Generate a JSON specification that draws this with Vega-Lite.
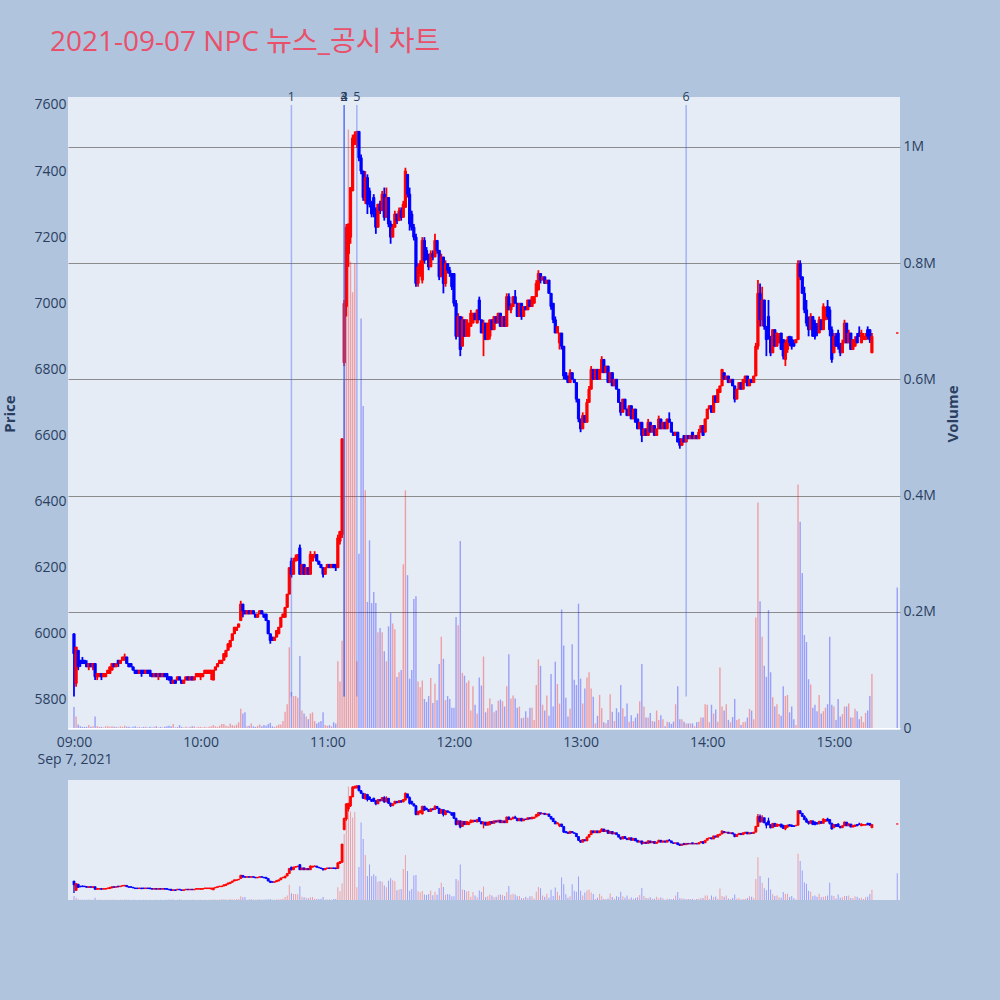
{
"$schema":"https://vega.github.io/schema/vega-lite/v6.json",
"autosize":{"type":"none"},
"padding":{"left":68,"top":97,"right":932,"bottom":903},
"background":"#B0C4DE",
"title":{"text":"2021-09-07 NPC 뉴스_공시 차트","anchor":"start","frame":"group","fontSize":28,"font":"Open Sans, Noto Sans CJK KR","fontWeight":"normal","color":"#E9506A","dx":-18,"offset":34},
"bounds":"flush",
"spacing":50,
"config":{"font":"Open Sans","view":{"fill":"#E5ECF6","stroke":null},"axis":{"labelFont":"Open Sans","labelFontSize":14,"labelColor":"#2a3f5f","titleColor":"#2a3f5f","titleFont":"Open Sans","domain":false,"ticks":false}},
"datasets":{
"news":[{"n":"1","t":"2021-09-07 10:43"},{"n":"2","t":"2021-09-07 11:08"},{"n":"3","t":"2021-09-07 11:08"},{"n":"4","t":"2021-09-07 11:08"},{"n":"5","t":"2021-09-07 11:14"},{"n":"6","t":"2021-09-07 13:50"}],
"ohlc":[
{"t":"2021-09-07 09:00","o":6000,"h":6000,"l":5810,"c":5940,"v":36000},
{"t":"2021-09-07 09:01","o":5850,"h":5960,"l":5840,"c":5960,"v":20000},
{"t":"2021-09-07 09:02","o":5950,"h":5950,"l":5890,"c":5900,"v":6000},
{"t":"2021-09-07 09:03","o":5920,"h":5920,"l":5900,"c":5910,"v":3000},
{"t":"2021-09-07 09:04","o":5920,"h":5930,"l":5910,"c":5910,"v":2000},
{"t":"2021-09-07 09:05","o":5920,"h":5920,"l":5910,"c":5910,"v":2000},
{"t":"2021-09-07 09:06","o":5910,"h":5920,"l":5900,"c":5900,"v":2000},
{"t":"2021-09-07 09:07","o":5900,"h":5910,"l":5890,"c":5910,"v":5000},
{"t":"2021-09-07 09:08","o":5910,"h":5910,"l":5900,"c":5900,"v":2000},
{"t":"2021-09-07 09:09","o":5900,"h":5910,"l":5890,"c":5910,"v":3000},
{"t":"2021-09-07 09:10","o":5910,"h":5910,"l":5860,"c":5870,"v":20000},
{"t":"2021-09-07 09:11","o":5870,"h":5880,"l":5860,"c":5880,"v":3000},
{"t":"2021-09-07 09:12","o":5870,"h":5880,"l":5870,"c":5880,"v":2000},
{"t":"2021-09-07 09:13","o":5880,"h":5880,"l":5860,"c":5870,"v":2000},
{"t":"2021-09-07 09:14","o":5870,"h":5880,"l":5870,"c":5880,"v":1000},
{"t":"2021-09-07 09:15","o":5870,"h":5880,"l":5870,"c":5880,"v":3000},
{"t":"2021-09-07 09:16","o":5880,"h":5890,"l":5880,"c":5890,"v":3000},
{"t":"2021-09-07 09:17","o":5880,"h":5900,"l":5880,"c":5900,"v":2000},
{"t":"2021-09-07 09:18","o":5890,"h":5910,"l":5890,"c":5910,"v":3000},
{"t":"2021-09-07 09:19","o":5910,"h":5910,"l":5900,"c":5900,"v":2000},
{"t":"2021-09-07 09:20","o":5900,"h":5910,"l":5900,"c":5910,"v":2000},
{"t":"2021-09-07 09:21","o":5920,"h":5920,"l":5900,"c":5910,"v":1000},
{"t":"2021-09-07 09:22","o":5910,"h":5920,"l":5910,"c":5920,"v":3000},
{"t":"2021-09-07 09:23","o":5920,"h":5930,"l":5920,"c":5930,"v":2000},
{"t":"2021-09-07 09:24","o":5920,"h":5940,"l":5920,"c":5930,"v":4000},
{"t":"2021-09-07 09:25","o":5930,"h":5930,"l":5910,"c":5910,"v":2000},
{"t":"2021-09-07 09:26","o":5910,"h":5910,"l":5900,"c":5900,"v":2000},
{"t":"2021-09-07 09:27","o":5910,"h":5910,"l":5900,"c":5900,"v":1000},
{"t":"2021-09-07 09:28","o":5900,"h":5900,"l":5890,"c":5890,"v":2000},
{"t":"2021-09-07 09:29","o":5890,"h":5890,"l":5880,"c":5880,"v":3000},
{"t":"2021-09-07 09:30","o":5890,"h":5890,"l":5880,"c":5880,"v":1000},
{"t":"2021-09-07 09:31","o":5880,"h":5890,"l":5880,"c":5890,"v":2000},
{"t":"2021-09-07 09:32","o":5890,"h":5890,"l":5870,"c":5880,"v":1000},
{"t":"2021-09-07 09:33","o":5890,"h":5890,"l":5880,"c":5880,"v":2000},
{"t":"2021-09-07 09:34","o":5880,"h":5890,"l":5880,"c":5890,"v":2000},
{"t":"2021-09-07 09:35","o":5890,"h":5890,"l":5880,"c":5880,"v":1000},
{"t":"2021-09-07 09:36","o":5890,"h":5890,"l":5870,"c":5880,"v":2000},
{"t":"2021-09-07 09:37","o":5880,"h":5880,"l":5870,"c":5870,"v":1000},
{"t":"2021-09-07 09:38","o":5870,"h":5880,"l":5870,"c":5880,"v":2000},
{"t":"2021-09-07 09:39","o":5880,"h":5880,"l":5870,"c":5870,"v":3000},
{"t":"2021-09-07 09:40","o":5870,"h":5880,"l":5860,"c":5880,"v":1000},
{"t":"2021-09-07 09:41","o":5880,"h":5880,"l":5870,"c":5870,"v":2000},
{"t":"2021-09-07 09:42","o":5870,"h":5880,"l":5870,"c":5880,"v":1000},
{"t":"2021-09-07 09:43","o":5880,"h":5880,"l":5870,"c":5870,"v":2000},
{"t":"2021-09-07 09:44","o":5880,"h":5880,"l":5860,"c":5870,"v":3000},
{"t":"2021-09-07 09:45","o":5870,"h":5870,"l":5860,"c":5860,"v":4000},
{"t":"2021-09-07 09:46","o":5870,"h":5870,"l":5850,"c":5850,"v":3000},
{"t":"2021-09-07 09:47","o":5850,"h":5860,"l":5850,"c":5860,"v":7000},
{"t":"2021-09-07 09:48","o":5860,"h":5860,"l":5850,"c":5850,"v":1000},
{"t":"2021-09-07 09:49","o":5860,"h":5870,"l":5860,"c":5870,"v":2000},
{"t":"2021-09-07 09:50","o":5870,"h":5870,"l":5860,"c":5860,"v":5000},
{"t":"2021-09-07 09:51","o":5860,"h":5860,"l":5850,"c":5850,"v":2000},
{"t":"2021-09-07 09:52","o":5850,"h":5860,"l":5850,"c":5860,"v":1000},
{"t":"2021-09-07 09:53","o":5860,"h":5870,"l":5860,"c":5870,"v":2000},
{"t":"2021-09-07 09:54","o":5870,"h":5870,"l":5860,"c":5860,"v":1000},
{"t":"2021-09-07 09:55","o":5860,"h":5870,"l":5860,"c":5870,"v":2000},
{"t":"2021-09-07 09:56","o":5870,"h":5870,"l":5860,"c":5860,"v":3000},
{"t":"2021-09-07 09:57","o":5860,"h":5870,"l":5860,"c":5870,"v":3000},
{"t":"2021-09-07 09:58","o":5870,"h":5880,"l":5870,"c":5880,"v":1000},
{"t":"2021-09-07 09:59","o":5870,"h":5880,"l":5870,"c":5880,"v":2000},
{"t":"2021-09-07 10:00","o":5870,"h":5880,"l":5860,"c":5880,"v":2000},
{"t":"2021-09-07 10:01","o":5870,"h":5880,"l":5870,"c":5880,"v":1000},
{"t":"2021-09-07 10:02","o":5880,"h":5890,"l":5880,"c":5890,"v":2000},
{"t":"2021-09-07 10:03","o":5880,"h":5890,"l":5880,"c":5890,"v":1000},
{"t":"2021-09-07 10:04","o":5880,"h":5890,"l":5880,"c":5890,"v":2000},
{"t":"2021-09-07 10:05","o":5880,"h":5890,"l":5860,"c":5890,"v":3000},
{"t":"2021-09-07 10:06","o":5860,"h":5890,"l":5860,"c":5890,"v":5000},
{"t":"2021-09-07 10:07","o":5890,"h":5900,"l":5890,"c":5900,"v":3000},
{"t":"2021-09-07 10:08","o":5900,"h":5910,"l":5900,"c":5910,"v":2000},
{"t":"2021-09-07 10:09","o":5910,"h":5920,"l":5910,"c":5920,"v":4000},
{"t":"2021-09-07 10:10","o":5910,"h":5920,"l":5910,"c":5920,"v":7000},
{"t":"2021-09-07 10:11","o":5920,"h":5940,"l":5920,"c":5940,"v":7000},
{"t":"2021-09-07 10:12","o":5930,"h":5950,"l":5930,"c":5950,"v":4000},
{"t":"2021-09-07 10:13","o":5950,"h":5970,"l":5950,"c":5970,"v":3000},
{"t":"2021-09-07 10:14","o":5960,"h":5980,"l":5960,"c":5980,"v":8000},
{"t":"2021-09-07 10:15","o":5980,"h":6000,"l":5980,"c":6000,"v":5000},
{"t":"2021-09-07 10:16","o":6000,"h":6020,"l":6000,"c":6020,"v":4000},
{"t":"2021-09-07 10:17","o":6010,"h":6020,"l":6010,"c":6020,"v":6000},
{"t":"2021-09-07 10:18","o":6020,"h":6030,"l":6020,"c":6030,"v":10000},
{"t":"2021-09-07 10:19","o":6040,"h":6100,"l":6040,"c":6090,"v":33000},
{"t":"2021-09-07 10:20","o":6090,"h":6090,"l":6050,"c":6070,"v":25000},
{"t":"2021-09-07 10:21","o":6070,"h":6070,"l":6060,"c":6060,"v":27000},
{"t":"2021-09-07 10:22","o":6060,"h":6070,"l":6060,"c":6070,"v":3000},
{"t":"2021-09-07 10:23","o":6070,"h":6070,"l":6060,"c":6060,"v":4000},
{"t":"2021-09-07 10:24","o":6060,"h":6070,"l":6060,"c":6070,"v":8000},
{"t":"2021-09-07 10:25","o":6070,"h":6070,"l":6060,"c":6060,"v":3000},
{"t":"2021-09-07 10:26","o":6060,"h":6060,"l":6050,"c":6050,"v":2000},
{"t":"2021-09-07 10:27","o":6050,"h":6060,"l":6050,"c":6060,"v":4000},
{"t":"2021-09-07 10:28","o":6060,"h":6070,"l":6060,"c":6070,"v":6000},
{"t":"2021-09-07 10:29","o":6070,"h":6070,"l":6060,"c":6060,"v":3000},
{"t":"2021-09-07 10:30","o":6060,"h":6060,"l":6050,"c":6050,"v":5000},
{"t":"2021-09-07 10:31","o":6060,"h":6060,"l":6040,"c":6040,"v":4000},
{"t":"2021-09-07 10:32","o":6040,"h":6040,"l":6000,"c":6000,"v":7000},
{"t":"2021-09-07 10:33","o":6000,"h":6000,"l":5970,"c":5980,"v":9000},
{"t":"2021-09-07 10:34","o":5990,"h":5990,"l":5980,"c":5980,"v":3000},
{"t":"2021-09-07 10:35","o":5980,"h":5990,"l":5980,"c":5990,"v":2000},
{"t":"2021-09-07 10:36","o":5990,"h":6010,"l":5990,"c":6010,"v":4000},
{"t":"2021-09-07 10:37","o":6000,"h":6020,"l":6000,"c":6020,"v":6000},
{"t":"2021-09-07 10:38","o":6020,"h":6050,"l":6020,"c":6050,"v":6000},
{"t":"2021-09-07 10:39","o":6050,"h":6060,"l":6050,"c":6060,"v":12000},
{"t":"2021-09-07 10:40","o":6050,"h":6080,"l":6050,"c":6080,"v":28000},
{"t":"2021-09-07 10:41","o":6080,"h":6120,"l":6080,"c":6120,"v":41000},
{"t":"2021-09-07 10:42","o":6120,"h":6200,"l":6120,"c":6200,"v":139000},
{"t":"2021-09-07 10:43","o":6220,"h":6230,"l":6170,"c":6180,"v":62000},
{"t":"2021-09-07 10:44","o":6180,"h":6230,"l":6180,"c":6220,"v":55000},
{"t":"2021-09-07 10:45","o":6220,"h":6240,"l":6220,"c":6230,"v":55000},
{"t":"2021-09-07 10:46","o":6230,"h":6240,"l":6220,"c":6240,"v":52000},
{"t":"2021-09-07 10:47","o":6260,"h":6270,"l":6180,"c":6180,"v":124000},
{"t":"2021-09-07 10:48","o":6180,"h":6210,"l":6180,"c":6210,"v":30000},
{"t":"2021-09-07 10:49","o":6210,"h":6210,"l":6180,"c":6180,"v":25000},
{"t":"2021-09-07 10:50","o":6180,"h":6200,"l":6180,"c":6200,"v":20000},
{"t":"2021-09-07 10:51","o":6200,"h":6200,"l":6180,"c":6180,"v":15000},
{"t":"2021-09-07 10:52","o":6180,"h":6250,"l":6180,"c":6240,"v":25000},
{"t":"2021-09-07 10:53","o":6220,"h":6240,"l":6220,"c":6240,"v":27000},
{"t":"2021-09-07 10:54","o":6230,"h":6250,"l":6230,"c":6240,"v":12000},
{"t":"2021-09-07 10:55","o":6240,"h":6240,"l":6220,"c":6220,"v":8000},
{"t":"2021-09-07 10:56","o":6220,"h":6220,"l":6210,"c":6210,"v":10000},
{"t":"2021-09-07 10:57","o":6210,"h":6210,"l":6200,"c":6200,"v":12000},
{"t":"2021-09-07 10:58","o":6200,"h":6200,"l":6170,"c":6180,"v":27000},
{"t":"2021-09-07 10:59","o":6180,"h":6200,"l":6180,"c":6200,"v":5000},
{"t":"2021-09-07 11:00","o":6200,"h":6210,"l":6200,"c":6210,"v":4000},
{"t":"2021-09-07 11:01","o":6210,"h":6210,"l":6200,"c":6200,"v":5000},
{"t":"2021-09-07 11:02","o":6200,"h":6210,"l":6200,"c":6210,"v":3000},
{"t":"2021-09-07 11:03","o":6210,"h":6210,"l":6200,"c":6200,"v":10000},
{"t":"2021-09-07 11:04","o":6210,"h":6210,"l":6190,"c":6200,"v":8000},
{"t":"2021-09-07 11:05","o":6200,"h":6300,"l":6200,"c":6290,"v":115000},
{"t":"2021-09-07 11:06","o":6280,"h":6310,"l":6270,"c":6310,"v":80000},
{"t":"2021-09-07 11:07","o":6300,"h":6590,"l":6290,"c":6590,"v":150000},
{"t":"2021-09-07 11:08","o":6820,"h":7010,"l":6810,"c":7000,"v":600000},
{"t":"2021-09-07 11:09","o":6990,"h":7240,"l":6960,"c":7230,"v":858000},
{"t":"2021-09-07 11:10","o":7150,"h":7240,"l":7110,"c":7240,"v":1030000},
{"t":"2021-09-07 11:11","o":7200,"h":7350,"l":7180,"c":7350,"v":803000},
{"t":"2021-09-07 11:12","o":7340,"h":7510,"l":7340,"c":7500,"v":750000},
{"t":"2021-09-07 11:13","o":7480,"h":7520,"l":7480,"c":7510,"v":800000},
{"t":"2021-09-07 11:14","o":7490,"h":7520,"l":7470,"c":7520,"v":115000},
{"t":"2021-09-07 11:15","o":7520,"h":7520,"l":7430,"c":7440,"v":300000},
{"t":"2021-09-07 11:16","o":7440,"h":7450,"l":7390,"c":7400,"v":705000},
{"t":"2021-09-07 11:17","o":7400,"h":7400,"l":7310,"c":7320,"v":554000},
{"t":"2021-09-07 11:18","o":7310,"h":7400,"l":7300,"c":7380,"v":409000},
{"t":"2021-09-07 11:19","o":7380,"h":7390,"l":7270,"c":7300,"v":217000},
{"t":"2021-09-07 11:20","o":7340,"h":7350,"l":7290,"c":7300,"v":323000},
{"t":"2021-09-07 11:21","o":7300,"h":7310,"l":7260,"c":7270,"v":215000},
{"t":"2021-09-07 11:22","o":7320,"h":7330,"l":7260,"c":7280,"v":234000},
{"t":"2021-09-07 11:23","o":7280,"h":7290,"l":7210,"c":7230,"v":215000},
{"t":"2021-09-07 11:24","o":7230,"h":7300,"l":7230,"c":7300,"v":165000},
{"t":"2021-09-07 11:25","o":7300,"h":7310,"l":7270,"c":7280,"v":172000},
{"t":"2021-09-07 11:26","o":7280,"h":7340,"l":7280,"c":7330,"v":165000},
{"t":"2021-09-07 11:27","o":7330,"h":7350,"l":7250,"c":7260,"v":132000},
{"t":"2021-09-07 11:28","o":7260,"h":7350,"l":7260,"c":7320,"v":115000},
{"t":"2021-09-07 11:29","o":7320,"h":7320,"l":7230,"c":7240,"v":175000},
{"t":"2021-09-07 11:30","o":7240,"h":7250,"l":7180,"c":7200,"v":198000},
{"t":"2021-09-07 11:31","o":7200,"h":7240,"l":7200,"c":7230,"v":180000},
{"t":"2021-09-07 11:32","o":7230,"h":7280,"l":7230,"c":7270,"v":170000},
{"t":"2021-09-07 11:33","o":7270,"h":7270,"l":7240,"c":7250,"v":88000},
{"t":"2021-09-07 11:34","o":7250,"h":7290,"l":7250,"c":7280,"v":96000},
{"t":"2021-09-07 11:35","o":7280,"h":7290,"l":7250,"c":7260,"v":100000},
{"t":"2021-09-07 11:36","o":7260,"h":7310,"l":7260,"c":7300,"v":282000},
{"t":"2021-09-07 11:37","o":7290,"h":7410,"l":7290,"c":7400,"v":409000},
{"t":"2021-09-07 11:38","o":7390,"h":7390,"l":7320,"c":7330,"v":263000},
{"t":"2021-09-07 11:39","o":7330,"h":7350,"l":7220,"c":7240,"v":85000},
{"t":"2021-09-07 11:40","o":7270,"h":7280,"l":7220,"c":7230,"v":100000},
{"t":"2021-09-07 11:41","o":7230,"h":7240,"l":7190,"c":7200,"v":222000},
{"t":"2021-09-07 11:42","o":7200,"h":7210,"l":7050,"c":7060,"v":227000},
{"t":"2021-09-07 11:43","o":7060,"h":7120,"l":7050,"c":7110,"v":80000},
{"t":"2021-09-07 11:44","o":7090,"h":7130,"l":7080,"c":7120,"v":70000},
{"t":"2021-09-07 11:45","o":7070,"h":7200,"l":7060,"c":7190,"v":82000},
{"t":"2021-09-07 11:46","o":7190,"h":7200,"l":7120,"c":7130,"v":50000},
{"t":"2021-09-07 11:47","o":7160,"h":7170,"l":7130,"c":7140,"v":45000},
{"t":"2021-09-07 11:48","o":7140,"h":7150,"l":7100,"c":7110,"v":55000},
{"t":"2021-09-07 11:49","o":7110,"h":7160,"l":7110,"c":7150,"v":86000},
{"t":"2021-09-07 11:50","o":7150,"h":7160,"l":7130,"c":7140,"v":43000},
{"t":"2021-09-07 11:51","o":7140,"h":7210,"l":7140,"c":7190,"v":76000},
{"t":"2021-09-07 11:52","o":7190,"h":7190,"l":7150,"c":7160,"v":48000},
{"t":"2021-09-07 11:53","o":7160,"h":7160,"l":7070,"c":7080,"v":110000},
{"t":"2021-09-07 11:54","o":7080,"h":7150,"l":7080,"c":7140,"v":157000},
{"t":"2021-09-07 11:55","o":7140,"h":7140,"l":7030,"c":7060,"v":119000},
{"t":"2021-09-07 11:56","o":7060,"h":7130,"l":7050,"c":7120,"v":48000},
{"t":"2021-09-07 11:57","o":7120,"h":7120,"l":7090,"c":7100,"v":55000},
{"t":"2021-09-07 11:58","o":7100,"h":7110,"l":7080,"c":7090,"v":50000},
{"t":"2021-09-07 11:59","o":7090,"h":7090,"l":7040,"c":7050,"v":35000},
{"t":"2021-09-07 12:00","o":7090,"h":7090,"l":6990,"c":7000,"v":35000},
{"t":"2021-09-07 12:01","o":7000,"h":7010,"l":6890,"c":6900,"v":191000},
{"t":"2021-09-07 12:02","o":6900,"h":6970,"l":6900,"c":6960,"v":177000},
{"t":"2021-09-07 12:03","o":6960,"h":6960,"l":6840,"c":6860,"v":322000},
{"t":"2021-09-07 12:04","o":6870,"h":6960,"l":6870,"c":6950,"v":95000},
{"t":"2021-09-07 12:05","o":6950,"h":6950,"l":6900,"c":6900,"v":90000},
{"t":"2021-09-07 12:06","o":6900,"h":6950,"l":6900,"c":6950,"v":78000},
{"t":"2021-09-07 12:07","o":6900,"h":6940,"l":6900,"c":6940,"v":82000},
{"t":"2021-09-07 12:08","o":6930,"h":6980,"l":6930,"c":6970,"v":30000},
{"t":"2021-09-07 12:09","o":6940,"h":6970,"l":6940,"c":6970,"v":72000},
{"t":"2021-09-07 12:10","o":6970,"h":6970,"l":6950,"c":6950,"v":40000},
{"t":"2021-09-07 12:11","o":6940,"h":6980,"l":6940,"c":6980,"v":25000},
{"t":"2021-09-07 12:12","o":7010,"h":7020,"l":6950,"c":6950,"v":87000},
{"t":"2021-09-07 12:13","o":6950,"h":6950,"l":6910,"c":6910,"v":73000},
{"t":"2021-09-07 12:14","o":6910,"h":6950,"l":6840,"c":6940,"v":123000},
{"t":"2021-09-07 12:15","o":6940,"h":6940,"l":6890,"c":6890,"v":27000},
{"t":"2021-09-07 12:16","o":6890,"h":6940,"l":6890,"c":6940,"v":34000},
{"t":"2021-09-07 12:17","o":6900,"h":6950,"l":6890,"c":6950,"v":51000},
{"t":"2021-09-07 12:18","o":6950,"h":6950,"l":6920,"c":6920,"v":41000},
{"t":"2021-09-07 12:19","o":6920,"h":6960,"l":6920,"c":6960,"v":27000},
{"t":"2021-09-07 12:20","o":6960,"h":6960,"l":6940,"c":6940,"v":30000},
{"t":"2021-09-07 12:21","o":6940,"h":6970,"l":6940,"c":6970,"v":47000},
{"t":"2021-09-07 12:22","o":6970,"h":6970,"l":6930,"c":6930,"v":49000},
{"t":"2021-09-07 12:23","o":6930,"h":6960,"l":6930,"c":6960,"v":46000},
{"t":"2021-09-07 12:24","o":6960,"h":6960,"l":6930,"c":6930,"v":37000},
{"t":"2021-09-07 12:25","o":6930,"h":7030,"l":6930,"c":7020,"v":72000},
{"t":"2021-09-07 12:26","o":7020,"h":7030,"l":6980,"c":6980,"v":127000},
{"t":"2021-09-07 12:27","o":6980,"h":7000,"l":6970,"c":6990,"v":51000},
{"t":"2021-09-07 12:28","o":6990,"h":7020,"l":6990,"c":7020,"v":56000},
{"t":"2021-09-07 12:29","o":7020,"h":7040,"l":7000,"c":7000,"v":51000},
{"t":"2021-09-07 12:30","o":7000,"h":7000,"l":6960,"c":6960,"v":35000},
{"t":"2021-09-07 12:31","o":6960,"h":7000,"l":6960,"c":7000,"v":37000},
{"t":"2021-09-07 12:32","o":7000,"h":7000,"l":6950,"c":6960,"v":17000},
{"t":"2021-09-07 12:33","o":6960,"h":6990,"l":6960,"c":6990,"v":18000},
{"t":"2021-09-07 12:34","o":6990,"h":6990,"l":6980,"c":6980,"v":29000},
{"t":"2021-09-07 12:35","o":6980,"h":7010,"l":6980,"c":7010,"v":18000},
{"t":"2021-09-07 12:36","o":7010,"h":7010,"l":6990,"c":6990,"v":35000},
{"t":"2021-09-07 12:37","o":6990,"h":7020,"l":6990,"c":7020,"v":35000},
{"t":"2021-09-07 12:38","o":7000,"h":7020,"l":7000,"c":7020,"v":14000},
{"t":"2021-09-07 12:39","o":7020,"h":7070,"l":7020,"c":7060,"v":74000},
{"t":"2021-09-07 12:40","o":7040,"h":7100,"l":7040,"c":7090,"v":118000},
{"t":"2021-09-07 12:41","o":7090,"h":7090,"l":7060,"c":7070,"v":107000},
{"t":"2021-09-07 12:42","o":7070,"h":7080,"l":7070,"c":7080,"v":40000},
{"t":"2021-09-07 12:43","o":7080,"h":7080,"l":7060,"c":7060,"v":30000},
{"t":"2021-09-07 12:44","o":7060,"h":7070,"l":7060,"c":7070,"v":56000},
{"t":"2021-09-07 12:45","o":7070,"h":7070,"l":7030,"c":7030,"v":21000},
{"t":"2021-09-07 12:46","o":7030,"h":7030,"l":6980,"c":6990,"v":93000},
{"t":"2021-09-07 12:47","o":7000,"h":7000,"l":6940,"c":6950,"v":37000},
{"t":"2021-09-07 12:48","o":6950,"h":6960,"l":6910,"c":6910,"v":114000},
{"t":"2021-09-07 12:49","o":6910,"h":6930,"l":6910,"c":6930,"v":76000},
{"t":"2021-09-07 12:50","o":6880,"h":6910,"l":6860,"c":6910,"v":42000},
{"t":"2021-09-07 12:51","o":6910,"h":6910,"l":6860,"c":6870,"v":204000},
{"t":"2021-09-07 12:52","o":6870,"h":6870,"l":6770,"c":6780,"v":142000},
{"t":"2021-09-07 12:53","o":6790,"h":6790,"l":6770,"c":6770,"v":52000},
{"t":"2021-09-07 12:54","o":6780,"h":6780,"l":6760,"c":6760,"v":20000},
{"t":"2021-09-07 12:55","o":6760,"h":6800,"l":6760,"c":6790,"v":33000},
{"t":"2021-09-07 12:56","o":6790,"h":6790,"l":6770,"c":6770,"v":144000},
{"t":"2021-09-07 12:57","o":6770,"h":6770,"l":6760,"c":6760,"v":83000},
{"t":"2021-09-07 12:58","o":6760,"h":6760,"l":6700,"c":6710,"v":74000},
{"t":"2021-09-07 12:59","o":6710,"h":6710,"l":6640,"c":6650,"v":214000},
{"t":"2021-09-07 13:00","o":6650,"h":6650,"l":6610,"c":6620,"v":85000},
{"t":"2021-09-07 13:01","o":6620,"h":6670,"l":6620,"c":6660,"v":42000},
{"t":"2021-09-07 13:02","o":6660,"h":6660,"l":6640,"c":6640,"v":68000},
{"t":"2021-09-07 13:03","o":6640,"h":6710,"l":6640,"c":6700,"v":87000},
{"t":"2021-09-07 13:04","o":6700,"h":6750,"l":6700,"c":6740,"v":96000},
{"t":"2021-09-07 13:05","o":6740,"h":6810,"l":6740,"c":6800,"v":68000},
{"t":"2021-09-07 13:06","o":6800,"h":6800,"l":6770,"c":6770,"v":54000},
{"t":"2021-09-07 13:07","o":6770,"h":6800,"l":6770,"c":6800,"v":8000},
{"t":"2021-09-07 13:08","o":6800,"h":6800,"l":6770,"c":6770,"v":21000},
{"t":"2021-09-07 13:09","o":6770,"h":6800,"l":6770,"c":6800,"v":57000},
{"t":"2021-09-07 13:10","o":6790,"h":6840,"l":6790,"c":6830,"v":34000},
{"t":"2021-09-07 13:11","o":6830,"h":6830,"l":6790,"c":6790,"v":10000},
{"t":"2021-09-07 13:12","o":6790,"h":6810,"l":6790,"c":6810,"v":8000},
{"t":"2021-09-07 13:13","o":6810,"h":6810,"l":6760,"c":6760,"v":14000},
{"t":"2021-09-07 13:14","o":6760,"h":6790,"l":6760,"c":6790,"v":58000},
{"t":"2021-09-07 13:15","o":6790,"h":6790,"l":6750,"c":6750,"v":28000},
{"t":"2021-09-07 13:16","o":6750,"h":6770,"l":6750,"c":6770,"v":12000},
{"t":"2021-09-07 13:17","o":6770,"h":6770,"l":6740,"c":6740,"v":34000},
{"t":"2021-09-07 13:18","o":6740,"h":6740,"l":6700,"c":6700,"v":27000},
{"t":"2021-09-07 13:19","o":6700,"h":6700,"l":6660,"c":6670,"v":74000},
{"t":"2021-09-07 13:20","o":6670,"h":6710,"l":6670,"c":6710,"v":34000},
{"t":"2021-09-07 13:21","o":6710,"h":6710,"l":6680,"c":6680,"v":20000},
{"t":"2021-09-07 13:22","o":6680,"h":6680,"l":6660,"c":6660,"v":42000},
{"t":"2021-09-07 13:23","o":6660,"h":6690,"l":6660,"c":6690,"v":11000},
{"t":"2021-09-07 13:24","o":6690,"h":6690,"l":6650,"c":6650,"v":22000},
{"t":"2021-09-07 13:25","o":6650,"h":6680,"l":6650,"c":6680,"v":12000},
{"t":"2021-09-07 13:26","o":6680,"h":6680,"l":6640,"c":6640,"v":18000},
{"t":"2021-09-07 13:27","o":6650,"h":6650,"l":6620,"c":6620,"v":25000},
{"t":"2021-09-07 13:28","o":6620,"h":6640,"l":6620,"c":6640,"v":46000},
{"t":"2021-09-07 13:29","o":6640,"h":6640,"l":6580,"c":6600,"v":110000},
{"t":"2021-09-07 13:30","o":6600,"h":6620,"l":6600,"c":6620,"v":37000},
{"t":"2021-09-07 13:31","o":6620,"h":6620,"l":6600,"c":6600,"v":18000},
{"t":"2021-09-07 13:32","o":6600,"h":6650,"l":6600,"c":6640,"v":18000},
{"t":"2021-09-07 13:33","o":6640,"h":6640,"l":6610,"c":6610,"v":26000},
{"t":"2021-09-07 13:34","o":6610,"h":6630,"l":6610,"c":6630,"v":12000},
{"t":"2021-09-07 13:35","o":6630,"h":6630,"l":6600,"c":6600,"v":11000},
{"t":"2021-09-07 13:36","o":6600,"h":6620,"l":6600,"c":6620,"v":30000},
{"t":"2021-09-07 13:37","o":6620,"h":6660,"l":6620,"c":6650,"v":14000},
{"t":"2021-09-07 13:38","o":6650,"h":6650,"l":6620,"c":6620,"v":22000},
{"t":"2021-09-07 13:39","o":6620,"h":6640,"l":6620,"c":6640,"v":15000},
{"t":"2021-09-07 13:40","o":6640,"h":6640,"l":6620,"c":6620,"v":3000},
{"t":"2021-09-07 13:41","o":6620,"h":6650,"l":6620,"c":6650,"v":11000},
{"t":"2021-09-07 13:42","o":6650,"h":6670,"l":6640,"c":6640,"v":10000},
{"t":"2021-09-07 13:43","o":6640,"h":6640,"l":6610,"c":6610,"v":7000},
{"t":"2021-09-07 13:44","o":6610,"h":6610,"l":6600,"c":6600,"v":11000},
{"t":"2021-09-07 13:45","o":6600,"h":6610,"l":6600,"c":6610,"v":41000},
{"t":"2021-09-07 13:46","o":6610,"h":6610,"l":6580,"c":6580,"v":72000},
{"t":"2021-09-07 13:47","o":6590,"h":6590,"l":6560,"c":6570,"v":15000},
{"t":"2021-09-07 13:48","o":6570,"h":6590,"l":6570,"c":6590,"v":15000},
{"t":"2021-09-07 13:49","o":6600,"h":6600,"l":6580,"c":6580,"v":11000},
{"t":"2021-09-07 13:50","o":6580,"h":6600,"l":6580,"c":6600,"v":8000},
{"t":"2021-09-07 13:51","o":6600,"h":6600,"l":6590,"c":6590,"v":8000},
{"t":"2021-09-07 13:52","o":6590,"h":6600,"l":6590,"c":6600,"v":8000},
{"t":"2021-09-07 13:53","o":6610,"h":6610,"l":6590,"c":6590,"v":8000},
{"t":"2021-09-07 13:54","o":6590,"h":6600,"l":6590,"c":6600,"v":3000},
{"t":"2021-09-07 13:55","o":6600,"h":6600,"l":6590,"c":6590,"v":10000},
{"t":"2021-09-07 13:56","o":6590,"h":6620,"l":6590,"c":6610,"v":11000},
{"t":"2021-09-07 13:57","o":6610,"h":6630,"l":6610,"c":6630,"v":18000},
{"t":"2021-09-07 13:58","o":6630,"h":6630,"l":6600,"c":6600,"v":18000},
{"t":"2021-09-07 13:59","o":6610,"h":6650,"l":6610,"c":6650,"v":41000},
{"t":"2021-09-07 14:00","o":6650,"h":6680,"l":6650,"c":6680,"v":40000},
{"t":"2021-09-07 14:01","o":6680,"h":6690,"l":6680,"c":6690,"v":10000},
{"t":"2021-09-07 14:02","o":6690,"h":6690,"l":6670,"c":6670,"v":40000},
{"t":"2021-09-07 14:03","o":6670,"h":6720,"l":6670,"c":6720,"v":25000},
{"t":"2021-09-07 14:04","o":6720,"h":6720,"l":6700,"c":6700,"v":32000},
{"t":"2021-09-07 14:05","o":6700,"h":6740,"l":6700,"c":6740,"v":11000},
{"t":"2021-09-07 14:06","o":6730,"h":6750,"l":6730,"c":6750,"v":104000},
{"t":"2021-09-07 14:07","o":6750,"h":6800,"l":6750,"c":6800,"v":37000},
{"t":"2021-09-07 14:08","o":6790,"h":6790,"l":6770,"c":6770,"v":30000},
{"t":"2021-09-07 14:09","o":6770,"h":6780,"l":6770,"c":6780,"v":41000},
{"t":"2021-09-07 14:10","o":6780,"h":6780,"l":6760,"c":6760,"v":14000},
{"t":"2021-09-07 14:11","o":6760,"h":6770,"l":6760,"c":6770,"v":10000},
{"t":"2021-09-07 14:12","o":6770,"h":6770,"l":6750,"c":6750,"v":19000},
{"t":"2021-09-07 14:13","o":6750,"h":6750,"l":6700,"c":6710,"v":50000},
{"t":"2021-09-07 14:14","o":6710,"h":6740,"l":6710,"c":6740,"v":14000},
{"t":"2021-09-07 14:15","o":6740,"h":6760,"l":6740,"c":6760,"v":16000},
{"t":"2021-09-07 14:16","o":6760,"h":6760,"l":6740,"c":6740,"v":5000},
{"t":"2021-09-07 14:17","o":6740,"h":6770,"l":6740,"c":6770,"v":10000},
{"t":"2021-09-07 14:18","o":6760,"h":6780,"l":6760,"c":6780,"v":11000},
{"t":"2021-09-07 14:19","o":6780,"h":6780,"l":6750,"c":6750,"v":18000},
{"t":"2021-09-07 14:20","o":6750,"h":6770,"l":6750,"c":6770,"v":33000},
{"t":"2021-09-07 14:21","o":6770,"h":6770,"l":6760,"c":6760,"v":30000},
{"t":"2021-09-07 14:22","o":6760,"h":6780,"l":6760,"c":6780,"v":15000},
{"t":"2021-09-07 14:23","o":6780,"h":6880,"l":6780,"c":6870,"v":190000},
{"t":"2021-09-07 14:24","o":6870,"h":7070,"l":6860,"c":7030,"v":388000},
{"t":"2021-09-07 14:25","o":7030,"h":7060,"l":6930,"c":6950,"v":218000},
{"t":"2021-09-07 14:26","o":6950,"h":7050,"l":6930,"c":7010,"v":157000},
{"t":"2021-09-07 14:27","o":7010,"h":7010,"l":6920,"c":6930,"v":107000},
{"t":"2021-09-07 14:28","o":6930,"h":6930,"l":6840,"c":6890,"v":88000},
{"t":"2021-09-07 14:29","o":6960,"h":7010,"l":6890,"c":6900,"v":203000},
{"t":"2021-09-07 14:30","o":6900,"h":6900,"l":6840,"c":6850,"v":96000},
{"t":"2021-09-07 14:31","o":6850,"h":6920,"l":6850,"c":6920,"v":53000},
{"t":"2021-09-07 14:32","o":6920,"h":6920,"l":6870,"c":6870,"v":37000},
{"t":"2021-09-07 14:33","o":6870,"h":6910,"l":6870,"c":6910,"v":41000},
{"t":"2021-09-07 14:34","o":6880,"h":6910,"l":6880,"c":6900,"v":24000},
{"t":"2021-09-07 14:35","o":6910,"h":6910,"l":6860,"c":6860,"v":21000},
{"t":"2021-09-07 14:36","o":6890,"h":6890,"l":6830,"c":6840,"v":72000},
{"t":"2021-09-07 14:37","o":6830,"h":6890,"l":6810,"c":6880,"v":55000},
{"t":"2021-09-07 14:38","o":6860,"h":6900,"l":6850,"c":6890,"v":57000},
{"t":"2021-09-07 14:39","o":6900,"h":6900,"l":6870,"c":6880,"v":27000},
{"t":"2021-09-07 14:40","o":6890,"h":6900,"l":6860,"c":6870,"v":37000},
{"t":"2021-09-07 14:41","o":6880,"h":6890,"l":6870,"c":6870,"v":15000},
{"t":"2021-09-07 14:42","o":6880,"h":6890,"l":6880,"c":6890,"v":5000},
{"t":"2021-09-07 14:43","o":6890,"h":7130,"l":6890,"c":7120,"v":419000},
{"t":"2021-09-07 14:44","o":7120,"h":7130,"l":7070,"c":7080,"v":355000},
{"t":"2021-09-07 14:45","o":7080,"h":7080,"l":7030,"c":7030,"v":267000},
{"t":"2021-09-07 14:46","o":7030,"h":7050,"l":6970,"c":6980,"v":160000},
{"t":"2021-09-07 14:47","o":6980,"h":7010,"l":6930,"c":6940,"v":148000},
{"t":"2021-09-07 14:48","o":6950,"h":6960,"l":6900,"c":6920,"v":84000},
{"t":"2021-09-07 14:49","o":6920,"h":6970,"l":6920,"c":6960,"v":75000},
{"t":"2021-09-07 14:50","o":6960,"h":6960,"l":6900,"c":6900,"v":35000},
{"t":"2021-09-07 14:51","o":6940,"h":6950,"l":6890,"c":6900,"v":40000},
{"t":"2021-09-07 14:52","o":6930,"h":6940,"l":6900,"c":6910,"v":29000},
{"t":"2021-09-07 14:53","o":6910,"h":6960,"l":6910,"c":6950,"v":57000},
{"t":"2021-09-07 14:54","o":6950,"h":6950,"l":6920,"c":6920,"v":25000},
{"t":"2021-09-07 14:55","o":6920,"h":7000,"l":6920,"c":6990,"v":29000},
{"t":"2021-09-07 14:56","o":6950,"h":6990,"l":6950,"c":6980,"v":35000},
{"t":"2021-09-07 14:57","o":6990,"h":7010,"l":6950,"c":6960,"v":41000},
{"t":"2021-09-07 14:58","o":6980,"h":6990,"l":6900,"c":6920,"v":157000},
{"t":"2021-09-07 14:59","o":6920,"h":6930,"l":6820,"c":6830,"v":40000},
{"t":"2021-09-07 15:00","o":6850,"h":6910,"l":6850,"c":6900,"v":37000},
{"t":"2021-09-07 15:01","o":6900,"h":6910,"l":6870,"c":6870,"v":14000},
{"t":"2021-09-07 15:02","o":6910,"h":6920,"l":6860,"c":6870,"v":50000},
{"t":"2021-09-07 15:03","o":6870,"h":6880,"l":6840,"c":6850,"v":20000},
{"t":"2021-09-07 15:04","o":6850,"h":6890,"l":6850,"c":6880,"v":24000},
{"t":"2021-09-07 15:05","o":6880,"h":6950,"l":6880,"c":6940,"v":37000},
{"t":"2021-09-07 15:06","o":6940,"h":6940,"l":6880,"c":6880,"v":37000},
{"t":"2021-09-07 15:07","o":6880,"h":6920,"l":6880,"c":6910,"v":42000},
{"t":"2021-09-07 15:08","o":6910,"h":6910,"l":6860,"c":6860,"v":18000},
{"t":"2021-09-07 15:09","o":6860,"h":6890,"l":6860,"c":6890,"v":18000},
{"t":"2021-09-07 15:10","o":6870,"h":6900,"l":6870,"c":6890,"v":33000},
{"t":"2021-09-07 15:11","o":6900,"h":6910,"l":6880,"c":6880,"v":29000},
{"t":"2021-09-07 15:12","o":6910,"h":6930,"l":6900,"c":6900,"v":15000},
{"t":"2021-09-07 15:13","o":6880,"h":6920,"l":6880,"c":6910,"v":20000},
{"t":"2021-09-07 15:14","o":6890,"h":6910,"l":6890,"c":6900,"v":10000},
{"t":"2021-09-07 15:15","o":6890,"h":6910,"l":6890,"c":6900,"v":26000},
{"t":"2021-09-07 15:16","o":6920,"h":6930,"l":6890,"c":6900,"v":30000},
{"t":"2021-09-07 15:17","o":6920,"h":6920,"l":6880,"c":6890,"v":55000},
{"t":"2021-09-07 15:18","o":6850,"h":6910,"l":6850,"c":6900,"v":93000},
{"t":"2021-09-07 15:30","o":6910,"h":6910,"l":6910,"c":6910,"v":242000}
]},
"vconcat":[
{
"width":832,"height":633,
"data":{"name":"ohlc"},
"resolve":{"scale":{"y":"independent"}},
"layer":[
{"mark":{"type":"bar","size":1.4,"opacity":0.33},
"encoding":{
"x":{"field":"t","type":"temporal","scale":{"padding":0,"nice":false,"domain":[{"year":2021,"month":9,"date":7,"hours":8,"minutes":57,"seconds":10},{"year":2021,"month":9,"date":7,"hours":15,"minutes":31,"seconds":18}]},
"axis":{"grid":false,"labelFlush":false,"labelPadding":5,
"title":"Sep 7, 2021","titleFontWeight":"normal","titleFontSize":14,"titleAnchor":"start","titleAlign":"left","titleBaseline":"middle","titleX":-31,"titleY":29,
"values":[{"year":2021,"month":9,"date":7,"hours":9},{"year":2021,"month":9,"date":7,"hours":10},{"year":2021,"month":9,"date":7,"hours":11},{"year":2021,"month":9,"date":7,"hours":12},{"year":2021,"month":9,"date":7,"hours":13},{"year":2021,"month":9,"date":7,"hours":14},{"year":2021,"month":9,"date":7,"hours":15}],
"format":"%H:%M"}},
"y":{"field":"v","type":"quantitative","scale":{"domain":[-3400,1086000],"nice":false,"zero":false},
"axis":{"orient":"right","title":"Volume","titleFontSize":15,"titleFontWeight":"bold","titleAngle":270,"titleBaseline":"top","titlePadding":10,"labelPadding":3,
"values":[0,200000,400000,600000,800000,1000000],
"labelExpr":"datum.value === 0 ? '0' : format(datum.value / 1000000, '~g') + 'M'",
"gridColor":{"condition":{"test":"datum.value === 0","value":"#ffffff"},"value":"#8c8c8c"},"gridWidth":1.2}},
"color":{"condition":{"test":"datum.c > datum.o","value":"#ff0000"},"value":"#0000ff"}}},
{"layer":[
{"mark":{"type":"rule","strokeWidth":1.8},
"encoding":{
"x":{"field":"t","type":"temporal"},
"y":{"field":"l","type":"quantitative","scale":{"domain":[5709,7624],"nice":false,"zero":false},
"axis":{"orient":"left","title":"Price","titleFontSize":15,"titleFontWeight":"bold","titlePadding":16,"labelPadding":2,"format":"d","values":[5800,6000,6200,6400,6600,6800,7000,7200,7400,7600],"gridColor":"#ffffff","gridWidth":1.2}},
"y2":{"field":"h"},
"color":{"condition":{"test":"datum.c >= datum.o","value":"#ff0000"},"value":"#0000ff"}}},
{"mark":{"type":"bar","size":2.2,"strokeWidth":1},
"encoding":{
"x":{"field":"t","type":"temporal"},
"y":{"field":"o","type":"quantitative"},
"y2":{"field":"c"},
"color":{"condition":{"test":"datum.c >= datum.o","value":"#ff0000"},"value":"#0000ff"},
"stroke":{"condition":{"test":"datum.c >= datum.o","value":"#ff0000"},"value":"#0000ff"}}},
{"data":{"name":"news"},
"mark":{"type":"rule","color":"#4060f0","opacity":0.4,"strokeWidth":1.5},
"encoding":{"x":{"field":"t","type":"temporal"},"y":{"datum":5810},"y2":{"datum":7600}}},
{"data":{"name":"news"},
"mark":{"type":"text","fontSize":12.5,"color":"#2a3f5f","baseline":"middle","font":"Open Sans"},
"encoding":{"x":{"field":"t","type":"temporal"},"y":{"datum":7624},"text":{"field":"n"}}}
]}
]
},
{
"width":832,"height":120,
"data":{"name":"ohlc"},
"resolve":{"scale":{"y":"independent"}},
"layer":[
{"mark":{"type":"bar","size":1,"opacity":0.33},
"encoding":{
"x":{"field":"t","type":"temporal","axis":null,"scale":{"padding":0,"nice":false,"domain":[{"year":2021,"month":9,"date":7,"hours":8,"minutes":57,"seconds":10},{"year":2021,"month":9,"date":7,"hours":15,"minutes":31,"seconds":18}]}},
"y":{"field":"v","type":"quantitative","axis":null,"scale":{"domain":[0,1090000],"nice":false,"zero":false}},
"color":{"condition":{"test":"datum.c > datum.o","value":"#ff0000"},"value":"#0000ff"}}},
{"layer":[
{"mark":{"type":"rule","strokeWidth":1.3},
"encoding":{
"x":{"field":"t","type":"temporal"},
"y":{"field":"l","type":"quantitative","axis":null,"scale":{"domain":[5698,7611],"nice":false,"zero":false}},
"y2":{"field":"h"},
"color":{"condition":{"test":"datum.c >= datum.o","value":"#ff0000"},"value":"#0000ff"}}},
{"mark":{"type":"bar","size":2,"strokeWidth":0.8},
"encoding":{
"x":{"field":"t","type":"temporal"},
"y":{"field":"o","type":"quantitative"},
"y2":{"field":"c"},
"color":{"condition":{"test":"datum.c >= datum.o","value":"#ff0000"},"value":"#0000ff"},
"stroke":{"condition":{"test":"datum.c >= datum.o","value":"#ff0000"},"value":"#0000ff"}}}
]}
]
}
]
}
